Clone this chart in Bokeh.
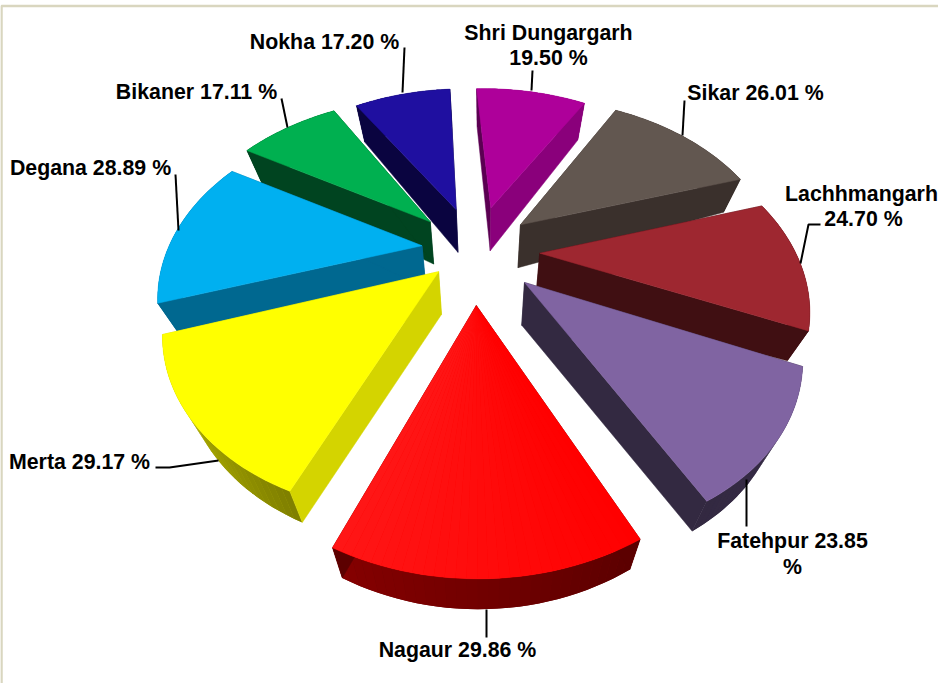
import math
from bokeh.plotting import figure
from bokeh.embed import file_html
from bokeh.resources import INLINE
from bokeh.core.properties import value

districts = ["Shri Dungargarh", "Sikar", "Lachhmangarh", "Fatehpur", "Nagaur", "Merta", "Degana", "Bikaner", "Nokha"]
percent = [19.50, 26.01, 24.70, 23.85, 29.86, 29.17, 28.89, 17.11, 17.20]

top_col = ["#AE009A", "#625750", "#9E2730", "#8064A2", "#FF0000", "#FFFF00", "#00B0F0", "#00B050", "#1F0FA0"]
top_end = ["#AE009A", "#625750", "#9E2730", "#8064A2", "#FF1616", "#FFFF00", "#00B0F0", "#00B050", "#1F0FA0"]
start_wall = ["#5B0052", "#3A302C", "#400F12", "#332941", "#5C0000", "#D4D400", "#006890", "#004420", "#0A0440"]
end_wall = ["#8A007B", "#3A302C", "#400F12", "#332941", "#5C0000", "#D4D400", "#006890", "#004420", "#0A0440"]
outer_a = ["#8A007B", "#3A302C", "#400F12", "#3A2E4A", "#5C0000", "#808000", "#006890", "#004420", "#0A0440"]
outer_b = ["#8A007B", "#3A302C", "#400F12", "#332941", "#850000", "#C8C800", "#006890", "#004420", "#0A0440"]

# projection of the tilted pie
CX, CY, A, B, G = 488, 262, 260, 180, 0.268
EXPLODE, ALPHA0 = 0.21, -3.0
APEX_X, APEX_Y = 1.12, 1.25
N_ARC = 30

# screen nudges of each slice: arc start, arc end, apex
arc_start_nudge = [(-3, -2), (1, -2), (0, -1), (-3, -4), (-7, 2), (9, -30), (4, -8), (-8, -5), (-5, -1)]
arc_end_nudge = [(-5, -1), (-1, -6), (-1, -8), (11, -13), (-3, 2), (9, -13), (-3, -1), (-8, -2), (-8, -2)]
apex_nudge = [(-3, -3), (-6, -1), (-2, -4), (-2, -6), (-6, 1), (5, -16), (2, -4), (-8, -1), (-7, -2)]


def proj(X, Y):
    w = 1 - G * Y
    return CX + A * X / w, CY + B * Y / w


def drop(x, y):
    d = math.hypot(x - 490, y - 262)
    return x - (x - 490) * 0.065, y + 45 - 0.045 * d


def hexmix(a, b, t):
    ca = [int(a[i:i + 2], 16) for i in (1, 3, 5)]
    cb = [int(b[i:i + 2], 16) for i in (1, 3, 5)]
    return "#%02X%02X%02X" % tuple(round(u + (v - u) * t) for u, v in zip(ca, cb))


p = figure(width=938, height=683, x_range=(8, 946), y_range=(691, 8),
           output_backend="svg", toolbar_location=None, min_border=0)
p.axis.visible = False
p.grid.visible = False
p.outline_line_color = None
p.background_fill_color = "white"

# frame
p.line([9, 9, 946], [691, 13.5, 13.5], line_color="#D9D6BF", line_width=2.5)

total = sum(percent)
slices = []
ang = ALPHA0
for i, v in enumerate(percent):
    sweep = v / total * 360
    slices.append((i, ang, ang + sweep))
    ang += sweep
slices.sort(key=lambda s: -math.cos(math.radians((s[1] + s[2]) / 2)))

for i, a0, a1 in slices:
    am = math.radians((a0 + a1) / 2)
    ox, oy = EXPLODE * math.sin(am), -EXPLODE * math.cos(am)
    ax0, ay0 = proj(ox, oy)
    apex = (CX + (ax0 - CX) * APEX_X + apex_nudge[i][0], CY + (ay0 - CY) * APEX_Y + apex_nudge[i][1])
    arc = []
    for k in range(N_ARC + 1):
        f = k / N_ARC
        t = math.radians(a0 + (a1 - a0) * f)
        qx, qy = proj(ox + math.sin(t), oy - math.cos(t))
        qx += arc_start_nudge[i][0] * (1 - f) + arc_end_nudge[i][0] * f
        qy += arc_start_nudge[i][1] * (1 - f) + arc_end_nudge[i][1] * f
        arc.append((qx, qy))
    low = [drop(*q) for q in arc]
    lapex = drop(*apex)
    # outer wall: a base in the middle colour, then shaded strips
    p.patch([q[0] for q in arc] + [q[0] for q in low[::-1]],
            [q[1] for q in arc] + [q[1] for q in low[::-1]],
            fill_color=hexmix(outer_a[i], outer_b[i], 0.5), line_color=None)
    for k in range(N_ARC):
        col = hexmix(outer_a[i], outer_b[i], k / (N_ARC - 1))
        xs = [arc[k][0], arc[k + 1][0], low[k + 1][0], low[k][0]]
        ys = [arc[k][1], arc[k + 1][1], low[k + 1][1], low[k][1]]
        p.patch(xs, ys, fill_color=col, line_color=None)
    # radial walls
    for q, lq, col in ((arc[0], low[0], start_wall[i]), (arc[-1], low[-1], end_wall[i])):
        p.patch([apex[0], q[0], lq[0], lapex[0]], [apex[1], q[1], lq[1], lapex[1]],
                fill_color=col, line_color=col, line_width=0.5)
    # top
    xs = [apex[0]] + [q[0] for q in arc]
    ys = [apex[1]] + [q[1] for q in arc]
    p.patch(xs, ys, fill_color=top_col[i], line_color=top_col[i], line_width=0.5)
    if top_col[i] != top_end[i]:
        for k in range(N_ARC):
            col = hexmix(top_col[i], top_end[i], k / (N_ARC - 1))
            p.patch([apex[0], arc[k][0], arc[k + 1][0]], [apex[1], arc[k][1], arc[k + 1][1]],
                    fill_color=col, line_color=None)

# leader lines
leaders = [
    ([412, 410], [55, 100]), ([540, 539], [78, 98]), ([692, 690], [108, 143]),
    ([828, 816, 808], [232, 232, 271]), ([754, 754], [534, 487]), ([494, 494], [645, 617]),
    ([163, 177, 226], [475, 475, 468]), ([183, 186], [182, 238]), ([289, 295], [106, 135]),
]
for lx, ly in leaders:
    p.line(lx, ly, line_color="black", line_width=2)

labels = [
    ("Nokha 17.20 %", 332, 49), ("Shri Dungargarh", 556, 40), ("19.50 %", 556, 65),
    ("Sikar 26.01 %", 763, 100), ("Lachhmangarh", 869, 201), ("24.70 %", 871, 226),
    ("Fatehpur 23.85", 800, 548), ("%", 800, 574), ("Nagaur 29.86 %", 465, 657),
    ("Merta 29.17 %", 87, 469), ("Degana 28.89 %", 98, 175), ("Bikaner 17.11 %", 204, 99),
]
p.text([l[1] for l in labels], [l[2] for l in labels], text=[l[0] for l in labels],
       text_font=value("Liberation Sans"), text_font_style="bold", text_font_size="21.33px",
       text_color="black", text_align="center", text_baseline="middle")

open("out.html", "w").write(file_html(p, INLINE))
